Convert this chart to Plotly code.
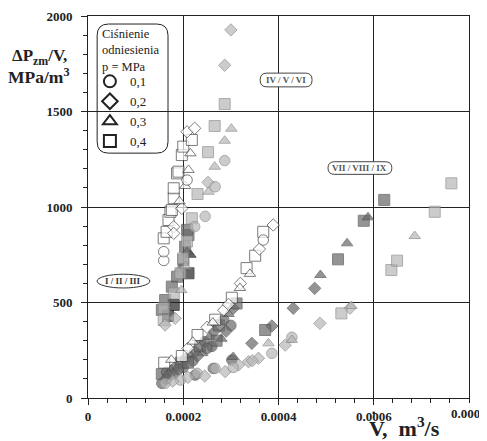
import plotly.graph_objects as go

# ---------------- data ----------------
# white-filled markers
white_x = [0.000159, 0.000159, 0.000159, 0.000165, 0.000169, 0.000173, 0.000176, 0.00018, 0.00018,
           0.00018, 0.000187, 0.00019, 0.000197, 0.0002, 0.000218, 0.000208, 0.000224, 0.000197,
           0.00018, 0.000215, 0.000211, 0.000204, 0.000208, 0.000192,
           0.00016, 0.000197, 0.00023, 0.000267, 0.000302, 0.000333, 0.000351, 0.000368,
           0.00021, 0.00025, 0.000285, 0.00032, 0.00036, 0.000389,
           0.000175, 0.00022, 0.000319, 0.00034, 0.000368, 0.000262, 0.000295]
white_y = [720, 766, 836, 870, 932, 975, 984, 1046, 1098,
           897, 1176, 1185, 1272, 1316, 1351, 1394, 1412, 993,
           862, 1281, 1194, 1110, 1141, 1030,
           185, 220, 330, 410, 525, 680, 745, 870,
           260, 370, 460, 600, 780, 906,
           200, 295, 576, 650, 827, 395, 490]
white_s = ["circle", "circle", "square", "square", "square", "square", "square", "square", "square",
           "diamond", "square", "square", "square", "square", "square", "diamond", "diamond", "diamond",
           "diamond", "triangle-up", "triangle-up", "triangle-up", "circle", "triangle-up",
           "square", "square", "square", "square", "square", "square", "square", "square",
           "diamond", "diamond", "diamond", "diamond", "diamond", "diamond",
           "triangle-up", "triangle-up", "triangle-up", "triangle-up", "circle", "triangle-up", "diamond"]

# light grey markers
light_x = [0.0003, 0.000287, 0.000252, 0.000287, 0.000266, 0.000252, 0.00023, 0.000218,
           0.000301, 0.000287, 0.000266, 0.000253, 0.000287, 0.000267, 0.000246, 0.000224,
           0.0002, 0.000194, 0.00018, 0.000159, 0.000159, 0.000208, 0.000183, 0.000162,
           0.000196, 0.000205,
           0.000162, 0.000194, 0.000229, 0.000267, 0.000386, 0.000428,
           0.000245, 0.000288, 0.000316, 0.000337, 0.000358, 0.000414, 0.000487, 0.00055,
           0.000379, 0.000428, 0.000553, 0.000686,
           0.000532, 0.000637, 0.000649, 0.000728, 0.000763,
           0.000178, 0.00021, 0.000305, 0.000345]
light_y = [1927, 1742, 1129, 1539, 1424, 1287, 1068, 941,
           1410, 1347, 1211, 1080, 1243, 1106, 951, 897,
           731, 653, 548, 470, 408, 820, 417, 382,
           565, 690,
           77, 94, 129, 155, 234, 318,
           115, 138, 173, 190, 208, 277, 391, 470,
           286, 304, 482, 848,
           443, 670, 719, 975, 1124,
           88, 108, 160, 195]
light_s = ["diamond", "diamond", "diamond", "square", "square", "square", "square", "square",
           "triangle-up", "triangle-up", "triangle-up", "triangle-up", "circle", "circle", "circle", "circle",
           "square", "square", "square", "square", "square", "square", "diamond", "diamond",
           "triangle-up", "triangle-up",
           "circle", "circle", "circle", "circle", "circle", "circle",
           "diamond", "diamond", "diamond", "diamond", "diamond", "diamond", "diamond", "diamond",
           "triangle-up", "triangle-up", "triangle-up", "triangle-up",
           "square", "square", "square", "square", "square",
           "diamond", "diamond", "circle", "diamond"]

# dark grey markers
dark_x = [0.000211, 0.000204, 0.0002, 0.000187, 0.000176, 0.000162, 0.000155, 0.000208,
          0.000208, 0.000195, 0.00017,
          0.000155, 0.000165, 0.000175, 0.000185, 0.000195, 0.000205, 0.000215, 0.000225,
          0.000235, 0.000245, 0.000255, 0.000265, 0.000275, 0.000285, 0.000295, 0.000305, 0.000312,
          0.000165, 0.00018, 0.0002, 0.00022, 0.00024, 0.00026, 0.00028, 0.0003,
          0.00017, 0.00019, 0.00021, 0.00023, 0.00025, 0.00027, 0.00029,
          0.000155, 0.000225, 0.000263, 0.000302,
          0.000344, 0.000386, 0.000431, 0.000476,
          0.000372, 0.000525, 0.000579, 0.000622,
          0.000305, 0.000488, 0.000544, 0.000588]
dark_y = [853, 792, 723, 635, 583, 513, 461, 880,
          766, 680, 440,
          125, 135, 150, 165, 185, 205, 225, 245,
          270, 295, 320, 350, 380, 410, 440, 470, 495,
          100, 125, 160, 195, 235, 270, 310, 380,
          120, 150, 185, 220, 260, 300, 350,
          77, 120, 155, 199,
          286, 377, 470, 574,
          356, 726, 928, 1037,
          215, 644, 810, 946]
dark_s = ["square", "square", "square", "square", "square", "square", "square", "square",
          "triangle-up", "triangle-up", "diamond",
          "square", "circle", "triangle-up", "diamond", "square", "circle", "triangle-up", "diamond",
          "square", "circle", "triangle-up", "diamond", "square", "circle", "triangle-up", "diamond", "square",
          "circle", "circle", "circle", "circle", "triangle-up", "circle", "triangle-up", "circle",
          "diamond", "circle", "square", "diamond", "circle", "square", "diamond",
          "circle", "circle", "circle", "circle",
          "diamond", "diamond", "diamond", "diamond",
          "square", "square", "square", "square",
          "triangle-up", "triangle-up", "triangle-up", "triangle-up"]

# black markers
black_x = [0.000211, 0.00018, 0.000215, 0.000168]
black_y = [653, 487, 750, 430]
black_s = ["square", "square", "triangle-up", "square"]

legend_labels = ["0,1", "0,2", "0,3", "0,4"]
legend_symbols = ["circle-open", "diamond-open", "triangle-up-open", "square-open"]

x_ticks = [0, 0.0002, 0.0004, 0.0006, 0.0008]
x_ticktext = ["0", "0.0002", "0.0004", "0.0006", "0.0008"]
y_ticks = [0, 500, 1000, 1500, 2000]

SERIF = "Liberation Serif"
SIZE = {"circle": 10.5, "square": 11, "diamond": 9.5, "triangle-up": 10}
TICKFONT = dict(family=SERIF, size=13, color="#222", weight="bold")

fig = go.Figure()


def add_group(xs, ys, syms, fill, edge):
    fig.add_trace(go.Scatter(
        x=xs, y=ys, mode="markers", showlegend=False, hoverinfo="skip",
        marker=dict(symbol=syms, size=[SIZE[s] for s in syms], color=fill,
                    line=dict(color=edge, width=1))))


add_group(black_x, black_y, black_s, "#262626", "#111111")
add_group(dark_x, dark_y, dark_s, "#686868", "#4e4e4e")
add_group(light_x, light_y, light_s, "#b7b7b7", "#888888")
add_group(white_x, white_y, white_s, "#ffffff", "#444444")

for lab, sym in zip(legend_labels, legend_symbols):
    fig.add_trace(go.Scatter(x=[None], y=[None], mode="markers", name=lab,
                             marker=dict(symbol=sym, size=11, color="#222",
                                         line=dict(color="#222", width=1.3))))

ax_common = dict(showgrid=True, gridcolor="#222222", gridwidth=1, zeroline=False,
                 showline=True, linecolor="#222", linewidth=1, mirror=True,
                 ticks="outside", ticklen=6, tickcolor="#222", automargin=False,
                 ticklabeloverflow="allow", tickfont=TICKFONT)

fig.update_xaxes(range=[0, 0.0008], tickvals=x_ticks[:-1], ticktext=x_ticktext[:-1],
                 minor=dict(dtick=0.00004, ticks="outside", ticklen=4, tickcolor="#222", showgrid=False),
                 **ax_common)
fig.update_yaxes(range=[0, 2000], tickvals=y_ticks,
                 minor=dict(dtick=100, ticks="outside", ticklen=4, tickcolor="#222", showgrid=False),
                 ticklabelstandoff=6, **ax_common)

# the last x tick label sits at the figure edge, where plotly drops it: place it as text at that tick
fig.add_annotation(x=x_ticks[-1], xref="x", y=-0.041, yref="paper", xanchor="center", yanchor="middle",
                   text=x_ticktext[-1], showarrow=False, font=TICKFONT)

# rounded legend frame (paper coords)
lx0, lx1, ly0, ly1, r = 0.024, 0.21, 0.641, 0.979, 0.03
fig.add_shape(type="path", xref="paper", yref="paper", layer="above",
              path=(f"M {lx0 + r},{ly1} L {lx1 - r},{ly1} Q {lx1},{ly1} {lx1},{ly1 - r} "
                    f"L {lx1},{ly0 + r} Q {lx1},{ly0} {lx1 - r},{ly0} L {lx0 + r},{ly0} "
                    f"Q {lx0},{ly0} {lx0},{ly0 + r} L {lx0},{ly1 - r} Q {lx0},{ly1} {lx0 + r},{ly1} Z"),
              line=dict(color="#222", width=1), fillcolor="rgba(0,0,0,0)")
fig.add_shape(type="rect", xref="paper", yref="paper", layer="below",
              x0=lx0, x1=lx1, y0=ly0, y1=ly1, line=dict(width=0), fillcolor="white")
fig.add_annotation(xref="paper", yref="paper", x=0.031, y=0.976, xanchor="left", yanchor="top",
                   text="Ciśnienie<br>odniesienia<br>p = MPa", showarrow=False, align="left",
                   font=dict(family=SERIF, size=12.5, color="#222"))

# group labels
fig.add_shape(type="circle", x0=0.000019, x1=0.00013, y0=576, y1=648,
              line=dict(color="#333", width=1), fillcolor="white")
fig.add_annotation(x=0.0000745, y=612, text="I / II / III", showarrow=False,
                   font=dict(family=SERIF, size=9, color="#333", weight="bold"))


def rounded_box(xc, yc, w, h, rx, ry):
    x0, x1, y0, y1 = xc - w / 2, xc + w / 2, yc - h / 2, yc + h / 2
    return (f"M {x0 + rx},{y1} L {x1 - rx},{y1} Q {x1},{y1} {x1},{y1 - ry} L {x1},{y0 + ry} "
            f"Q {x1},{y0} {x1 - rx},{y0} L {x0 + rx},{y0} Q {x0},{y0} {x0},{y0 + ry} "
            f"L {x0},{y1 - ry} Q {x0},{y1} {x0 + rx},{y1} Z")


for txt, xc, yc, w, h in [("IV / V / VI", 0.000416, 1665, 0.000109, 72),
                          ("VII / VIII / IX", 0.000571, 1204, 0.000134, 66)]:
    fig.add_shape(type="path", path=rounded_box(xc, yc, w, h, 0.000014, h / 2 - 1),
                  line=dict(color="#444", width=1), fillcolor="white")
    fig.add_annotation(x=xc, y=yc, text=txt, showarrow=False,
                       font=dict(family=SERIF, size=9, color="#555", weight="bold"))

# axis titles
fig.add_annotation(xref="paper", yref="paper", x=-0.128, y=0.893, xanchor="center", yanchor="middle",
                   text="ΔP<sub>zm</sub>/V,", showarrow=False,
                   font=dict(family=SERIF, size=17, color="#222", weight="bold"))
fig.add_annotation(xref="paper", yref="paper", x=-0.128, y=0.842, xanchor="center", yanchor="middle",
                   text="MPa/m<sup>3</sup>", showarrow=False,
                   font=dict(family=SERIF, size=17.5, color="#222", weight="bold"))
fig.add_annotation(xref="paper", yref="paper", x=0.733, y=-0.076, xanchor="left", yanchor="middle",
                   text="V,  m<sup>3</sup>/s", showarrow=False,
                   font=dict(family=SERIF, size=22, color="#222", weight="bold"))
# dot above the V (flow rate symbol)
fig.add_shape(type="circle", xref="paper", yref="paper",
              x0=0.7465, x1=0.7535, y0=-0.0425, y1=-0.0355,
              line=dict(width=0), fillcolor="#222")

fig.update_layout(
    width=487, height=441,
    margin=dict(l=80, r=26, t=8, b=51),
    paper_bgcolor="white", plot_bgcolor="white",
    showlegend=True,
    legend=dict(x=0.005, y=0.868, xanchor="left", yanchor="top",
                bgcolor="rgba(0,0,0,0)", borderwidth=0,
                font=dict(family=SERIF, size=13, color="#222"),
                itemsizing="constant", tracegroupgap=0),
)

fig.write_html("out.html")
